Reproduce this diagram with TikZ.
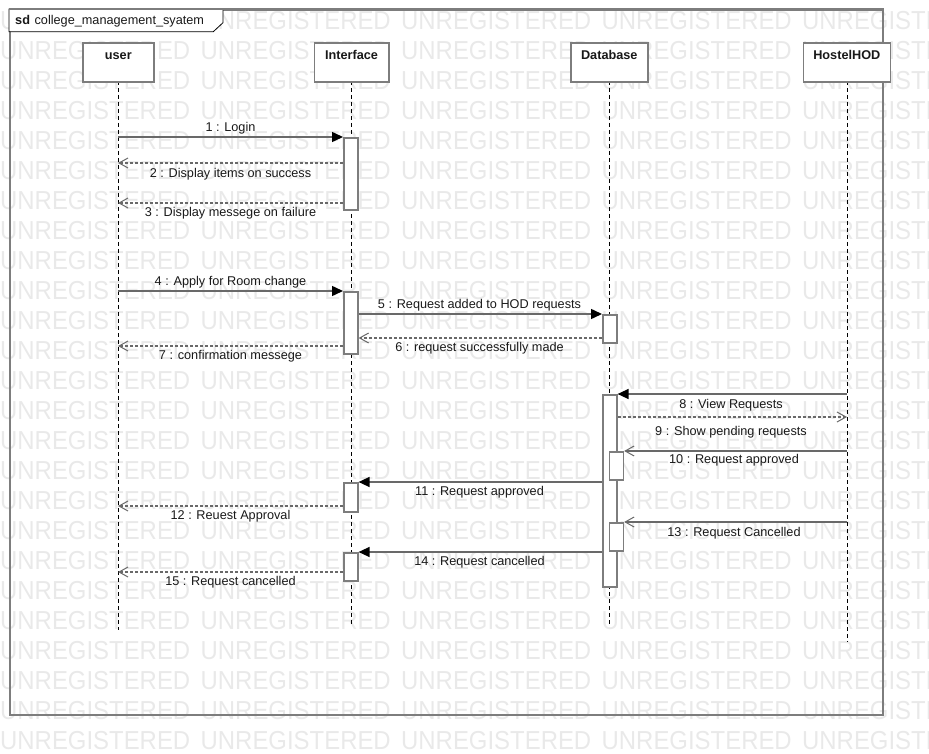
\documentclass[tikz,border=0pt]{standalone}
\usepackage{fontspec}
\setmainfont{Liberation Sans}
\usetikzlibrary{arrows.meta,calc}
\definecolor{wm}{RGB}{233,233,233}
\definecolor{ln}{RGB}{105,105,105}
\definecolor{fr}{RGB}{125,125,125}
\definecolor{tx}{RGB}{25,25,25}
\begin{document}
\begin{tikzpicture}[x=1pt,y=-1pt,
 wmk/.style={anchor=base west, inner sep=0, text=wm, font=\fontsize{26}{27}\selectfont},
 head/.style={draw=fr, line width=1.6pt, fill=white, anchor=north west, inner sep=0},
 hlbl/.style={anchor=base, inner sep=0, font=\bfseries\fontsize{12.7}{14}\selectfont, text=tx},
 act/.style={draw=fr, line width=1.6pt, fill=white, anchor=north west, inner sep=0, minimum width=14pt},
 lifeln/.style={draw=black, line width=0.9pt, dash pattern=on 4pt off 3pt},
 call/.style={draw=ln, line width=1.5pt, -{Triangle[length=11pt,width=10pt,color=black,fill=black]}},
 async/.style={draw=ln, line width=1.5pt, -{Straight Barb[length=9pt,width=10pt,line width=1pt]}},
 ret/.style={draw=ln, line width=1.2pt, dash pattern=on 3pt off 2pt, -{Straight Barb[length=9pt,width=10pt,line width=1pt]}},
 msg/.style={anchor=base, inner sep=0, font=\fontsize{12.7}{14}\selectfont, text=tx},
]
\useasboundingbox (0,0) rectangle (929,754);
% watermark
\begin{scope}
\clip (0,0) rectangle (929,754);
\foreach \k in {0,...,24}{
  \foreach \i/\xx in {0/0,1/200.5,2/401,3/601.5,4/802}{
    \node[wmk] (wm-\k-\i) at (\xx,29.5+30*\k) {\scalebox{0.92}[1]{UNREGISTERED}};
  }
}
\end{scope}
% frame
\node[draw=fr, line width=2pt, anchor=north west, inner sep=0, minimum width=873pt, minimum height=705pt] (frame) at (9,9) {};
\draw[black, line width=0.8pt, fill=white] (frame.north west) -- (223,9) -- (223,22.7) -- (213.3,31.7) -- (9,31.7) -- cycle;
\draw[fr, line width=2pt] (frame.north west) -- (frame.north east);
\node[anchor=base west, inner sep=0, font=\fontsize{12.7}{14}\selectfont, text=tx] (title) at (15,25) {\textbf{sd}\hspace{4.6pt}college\_management\_syatem};
% lifelines
\coordinate (userL) at (118,630);
\coordinate (intL) at (351,624);
\coordinate (dbL) at (609,624);
\coordinate (hodL) at (847,642);
\draw[lifeln] (118,81) -- (userL);
\draw[lifeln] (351,81) -- (intL);
\draw[lifeln] (609,81) -- (dbL);
\draw[lifeln] (847,81) -- (hodL);
% headers
\node[head, minimum width=71pt, minimum height=39pt] (user) at (82,42) {};
\node[head, minimum width=74.5pt, minimum height=39pt] (int) at (313.5,42) {};
\node[head, minimum width=77pt, minimum height=39pt] (db) at (570,42) {};
\node[head, minimum width=87pt, minimum height=39pt] (hod) at (802.5,42) {};
\node[hlbl] (userT) at (user.north |- 0,59.5) {user};
\node[hlbl] (intT) at (int.north |- 0,59.5) {Interface};
\node[hlbl] (dbT) at (db.north |- 0,59.5) {Database};
\node[hlbl] (hodT) at (hod.north |- 0,59.5) {HostelHOD};
% activations
\node[act, minimum height=72pt] (a1) at (343,137) {};
\node[act, minimum height=62pt] (a2) at (343,291) {};
\node[act, minimum height=28pt] (d1) at (602,314) {};
\node[act, minimum height=192pt] (d2) at (602,394) {};
\node[act, minimum height=28pt] (n1) at (608.5,451) {};
\node[act, minimum height=29pt] (a3) at (343,482) {};
\node[act, minimum height=28pt] (n2) at (608.5,522) {};
\node[act, minimum height=28pt] (a4) at (343,552) {};
% message anchors on lifelines
\coordinate (u1) at (118,137);
\coordinate (u2) at (118,163);
\coordinate (u3) at (118,203);
\coordinate (u4) at (118,291);
\coordinate (u7) at (118,346);
\coordinate (u12) at (118,506);
\coordinate (u15) at (118,572);
\coordinate (h8) at (847,394);
\coordinate (h9) at (847,417);
\coordinate (h10) at (847,451);
\coordinate (h13) at (847,522);
% messages
\draw[call] (u1) -- (a1.north west);
\draw[ret] (a1.west |- u2) -- (u2);
\draw[ret] (a1.west |- u3) -- (u3);
\draw[call] (u4) -- (a2.north west);
\draw[call] (a2.east |- d1.north) -- (d1.north west);
\draw[ret] (d1.west |- 0,338) -- (a2.east |- 0,338);
\draw[ret] (a2.west |- u7) -- (u7);
\draw[call] (h8) -- (d2.north east);
\draw[ret] (d2.east |- h9) -- (h9);
\draw[async] (h10) -- (n1.north east);
\draw[call] (d2.west |- a3.north) -- (a3.north east);
\draw[ret] (a3.west |- u12) -- (u12);
\draw[async] (h13) -- (n2.north east);
\draw[call] (d2.west |- a4.north) -- (a4.north east);
\draw[ret] (a4.west |- u15) -- (u15);
% labels
\node[msg] (m1) at (230.5,131.7) {1 : Login};
\node[msg] (m2) at (230.5,177.5) {2 : Display items on success};
\node[msg] (m3) at (230.5,216.7) {3 : Display messege on failure};
\node[msg] (m4) at (230.5,285.3) {4 : Apply for Room change};
\node[msg] (m5) at (479.5,308.3) {5 : Request added to HOD requests};
\node[msg] (m6) at (479.5,351.7) {6 : request successfully made};
\node[msg] (m7) at (230.5,359.5) {7 : confirmation messege};
\node[msg] (m8) at (731,408.3) {8 : View Requests};
\node[msg] (m9) at (731,435.3) {9 : Show pending requests};
\node[msg] (m10) at (734,463.5) {10 : Request approved};
\node[msg] (m11) at (479.5,495.7) {11 : Request approved};
\node[msg] (m12) at (230.5,519.3) {12 : Reuest Approval};
\node[msg] (m13) at (734,536) {13 : Request Cancelled};
\node[msg] (m14) at (479.5,565.5) {14 : Request cancelled};
\node[msg] (m15) at (230.5,585.3) {15 : Request cancelled};
\end{tikzpicture}
\end{document}
